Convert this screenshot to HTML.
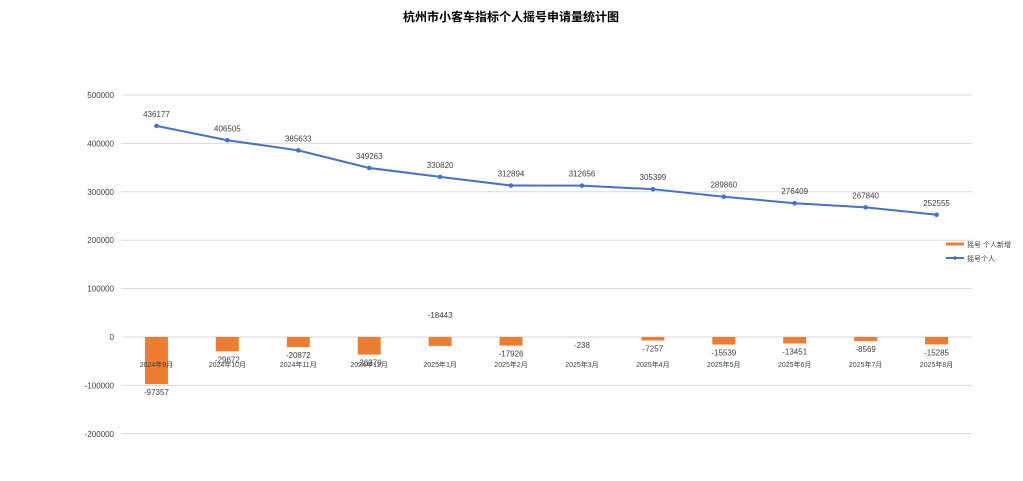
<!DOCTYPE html>
<html><head><meta charset="utf-8">
<style>
html,body{margin:0;padding:0;background:#fff;}
svg{display:block;font-family:"Liberation Sans","Noto Sans CJK SC",sans-serif;}
</style></head>
<body>
<svg id="chart" width="1023" height="481" viewBox="0 0 1023 481" xmlns="http://www.w3.org/2000/svg">
<rect x="0" y="0" width="1023" height="481" fill="#fff"/>
<text x="511" y="21" text-anchor="middle" font-size="12" font-weight="bold" fill="#000">杭州市小客车指标个人摇号申请量统计图</text>
<g id="grid"></g><g id="yticks"></g><g id="bars"></g><g id="line"></g><g id="labels"></g>
<g>
<line x1="946" y1="244" x2="964" y2="244" stroke="#ED7D31" stroke-width="3"/>
<text x="967" y="247" font-size="7" fill="#404040">摇号 个人新增</text>
<line x1="946" y1="258" x2="964" y2="258" stroke="#4472C4" stroke-width="2"/>
<circle cx="955" cy="258" r="1.8" fill="#4472C4"/>
<text x="967" y="261" font-size="7" fill="#404040">摇号个人</text>
</g>
</svg>
<script>
const categories=["2024年9月","2024年10月","2024年11月","2024年12月","2025年1月","2025年2月","2025年3月","2025年4月","2025年5月","2025年6月","2025年7月","2025年8月"];
const totalValues=[436177,406505,385633,349263,330820,312894,312656,305399,289860,276409,267840,252555];
const newValues=[-97357,-29672,-20872,-36370,-18443,-17926,-238,-7257,-15539,-13451,-8569,-15285];
const yTicks=[500000,400000,300000,200000,100000,0,-100000,-200000];
const NS="http://www.w3.org/2000/svg";
const x0=121,x1=972,yZero=337,pxPer=48.4/100000;
const band=(x1-x0)/categories.length;
function xc(i){return x0+band*(i+0.5);}
function y(v){return yZero-v*pxPer;}
function mk(tag,attrs,parent,txt){const e=document.createElementNS(NS,tag);for(const k in attrs)e.setAttribute(k,attrs[k]);if(txt!==undefined)e.textContent=txt;document.getElementById(parent).appendChild(e);return e;}
yTicks.forEach(t=>{
  const g=mk('line',{x1:x0,x2:x1,y1:y(t),y2:y(t),stroke:'#d9d9d9','stroke-width':1},'grid');
  
  
  const l=mk('text',{x:114,y:y(t)+3,'text-anchor':'end','font-size':8,fill:'#404040'},'yticks',String(t));
  
  
});
newValues.forEach((v,i)=>{
  const top=Math.min(y(v),yZero),h=Math.abs(y(v)-yZero);
  const b=mk('rect',{x:xc(i)-11.5,y:top,width:23,height:h,fill:'#ED7D31'},'bars');
  
  
  const ly=(i===4)?318:y(v)+11;
  const t=mk('text',{x:xc(i),y:ly,'text-anchor':'middle','font-size':8,fill:'#404040'},'labels',String(v));
  
  
});
categories.forEach((c,i)=>{
  const t=mk('text',{x:xc(i),y:367,'text-anchor':'middle','font-size':7,fill:'#404040'},'labels',c);
  
  
});
const pts=totalValues.map((v,i)=>xc(i)+','+y(v)).join(' ');
const pl=mk('polyline',{points:pts,fill:'none',stroke:'#4472C4','stroke-width':2},'line');


totalValues.forEach((v,i)=>{
  const c=mk('circle',{cx:xc(i),cy:y(v),r:2.3,fill:'#4472C4'},'line');
  
  
  const t=mk('text',{x:xc(i),y:y(v)-9,'text-anchor':'middle','font-size':8,fill:'#404040'},'labels',String(v));
  
  
});
</script>
</body></html>
